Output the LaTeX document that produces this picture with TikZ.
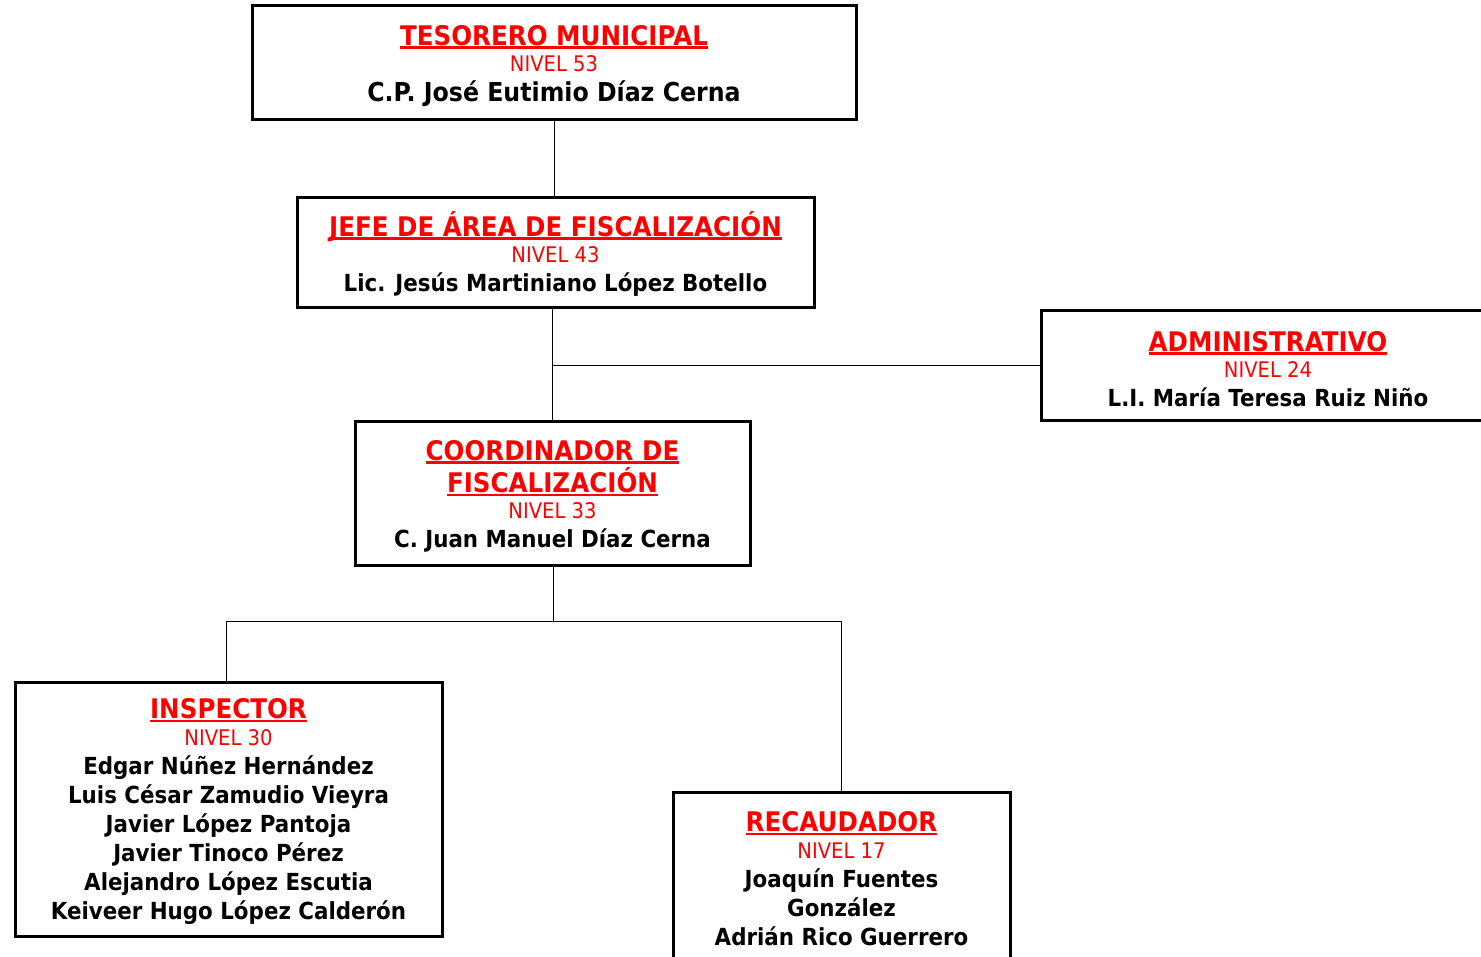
\documentclass[tikz,border=0pt]{standalone}
\usepackage{fontspec}
\setmainfont{DejaVu Sans}[FakeStretch=0.91]
\definecolor{tred}{RGB}{255,0,0}
\newcommand{\myul}[1]{\setbox0\hbox{#1}\rlap{\rule[-3.5pt]{\wd0}{2.6pt}}\box0}
\newcommand{\ttl}[1]{{\fontsize{27}{31}\selectfont\bfseries\color{tred}\rule{0pt}{26pt}\myul{#1}}}
\newcommand{\niv}[1]{{\fontsize{21.5}{29}\selectfont\mdseries\color{tred}#1}}
\tikzset{
  orgbox/.style={draw=black, line width=3pt, fill=white, align=center, inner sep=0pt,
    font=\fontsize{23.5}{29}\selectfont\bfseries},
  link/.style={draw=black, line width=1pt}
}
\begin{document}
\begin{tikzpicture}[x=1pt,y=-1pt]
\useasboundingbox (0,0) rectangle (1481,957);
\node[orgbox, minimum width=604pt, minimum height=114pt] (tes) at (554,63)
  {\ttl{TESORERO MUNICIPAL}\\[-3pt] \niv{NIVEL 53}\\[1pt] {\fontsize{26}{29}\selectfont C.P. José Eutimio Díaz Cerna}};
\node[orgbox, minimum width=517pt, minimum height=110pt] (jefe) at (555.5,253)
  {\ttl{JEFE DE ÁREA DE FISCALIZACIÓN}\\[-3pt] \niv{NIVEL 43}\\ Lic. Jesús Martiniano López Botello};
\node[orgbox, minimum width=454pt, minimum height=110pt] (adm) at (1268,366)
  {\ttl{ADMINISTRATIVO}\\[-3pt] \niv{NIVEL 24}\\ L.I. María Teresa Ruiz Niño};
\node[orgbox, minimum width=395pt, minimum height=143pt] (coord) at (552.5,493.5)
  {\ttl{COORDINADOR DE}\\[2pt] \ttl{FISCALIZACIÓN}\\[-3pt] \niv{NIVEL 33}\\ C. Juan Manuel Díaz Cerna};
\node[orgbox, minimum width=427pt, minimum height=254pt] (insp) at (228.5,809)
  {\ttl{INSPECTOR}\\[-2pt] \niv{NIVEL 30}\\ Edgar Núñez Hernández\\ Luis César Zamudio Vieyra\\ Javier López Pantoja\\ Javier Tinoco Pérez\\ Alejandro López Escutia\\ Keiveer Hugo López Calderón};
\node[orgbox, minimum width=337pt, minimum height=168pt] (rec) at (841.5,876)
  {\ttl{RECAUDADOR}\\[-2pt] \niv{NIVEL 17}\\ Joaquín Fuentes\\ González\\ Adrián Rico Guerrero};
\coordinate (b1) at (552,366);
\coordinate (b2) at (553,621);
\coordinate (bl) at (226,621);
\coordinate (br) at (841,621);
\draw[link] (tes.south) -- (jefe.north -| tes.south);
\draw[link] (jefe.south -| b1) -- (coord.north -| b1);
\draw[link] (b1) -- (adm.west);
\draw[link] (coord.south -| b2) -- (b2);
\draw[link] (bl) -- (br);
\draw[link] (bl) -- (insp.north -| bl);
\draw[link] (br) -- (rec.north -| br);
\end{tikzpicture}
\end{document}
